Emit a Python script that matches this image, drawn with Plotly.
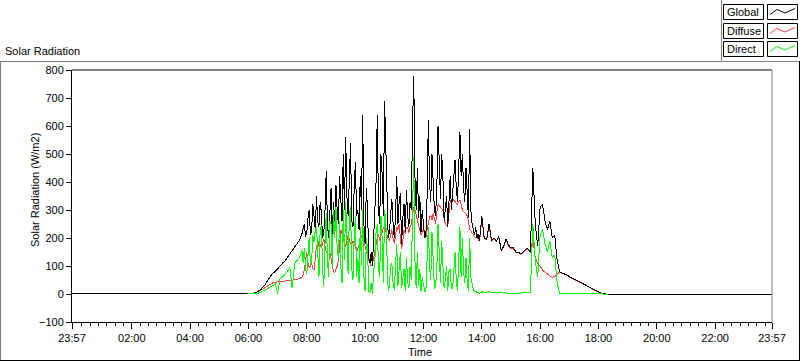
import plotly.graph_objects as go

# ---------------- data ----------------
# sample times (minutes after midnight): 5-min early, 2.5-min during the cloudy midday, 5-min late
times_early = list(range(360, 470, 5))                 # 06:00 .. 07:45
times_mid = [470 + 2.5 * i for i in range(148)]        # 07:50 .. 13:57.5
times_late = list(range(840, 1105, 5))                 # 14:00 .. 18:20
times = times_early + times_mid + times_late

global_rad = [
    # 06:00 - 07:45
    0, 0, 2, 5, 10, 15, 25, 35, 50, 62, 75, 80, 92, 100, 110, 118, 130, 145, 155, 168, 180, 192,
    # 07:50 - 13:57.5
    215, 230, 250, 205,
    220, 270, 300, 210, 230, 320, 270, 230, 350, 260, 240, 330, 290, 200, 220, 300, 440, 250, 200, 320, 380, 210, 330, 260,
    390, 300, 250, 420, 330, 260, 500, 300, 560, 350, 280, 450, 540, 260, 240, 380, 470, 280, 300, 230, 420, 300, 640, 250,
    180, 380, 300, 130, 110, 150, 100, 200, 280, 400, 640, 300, 250, 500, 430, 280, 690, 500, 350, 200, 220, 300, 340, 250,
    200, 280, 420, 250, 330, 360, 180, 270, 320, 220, 370, 280, 240, 330, 300, 600, 780, 420, 300, 450, 270, 350, 220, 300,
    260, 200, 210, 350, 620, 400, 330, 500, 400, 300, 280, 380, 600, 450, 340, 500, 420, 260, 300, 350, 240, 330, 420, 300,
    350, 420, 480, 380, 330, 450, 580, 420, 500, 380, 330, 450, 320, 270, 590, 300, 250, 230, 210, 240, 200, 215, 190, 230,
    # 14:00 - 18:20
    280, 200, 195, 250, 190, 200, 190, 205, 155, 170, 196, 175,
    165, 165, 150, 150, 143, 150, 160, 162, 150, 450, 250, 170,
    310, 320, 260, 230, 260, 200, 210, 120, 80, 75, 72, 68,
    62, 58, 52, 48, 44, 40, 35, 30, 26, 22, 17, 12,
    8, 4, 1, 0, 0,
]
diffuse_rad = [
    0, 0, 1, 4, 8, 12, 18, 24, 30, 36, 40, 42, 43, 44, 44, 45, 46, 47, 48, 50, 52, 55,
    60, 70, 85, 120,
    150, 110, 95, 100, 110, 90, 85, 130, 175, 160, 190, 175, 165, 180, 195, 170, 150, 145, 140, 150, 130, 100, 80, 75,
    85, 100, 120, 180, 230, 215, 200, 185, 170, 190, 210, 195, 180, 175, 190, 180, 170, 150, 160, 170, 185, 210, 200, 185,
    170, 150, 140, 120, 110, 100, 105, 130, 160, 185, 200, 215, 190, 205, 220, 235, 240, 225, 210, 195, 190, 210, 230, 200,
    180, 210, 240, 230, 250, 200, 160, 190, 230, 215, 240, 235, 220, 240, 250, 280, 310, 300, 280, 260, 240, 225, 210, 220,
    230, 215, 200, 230, 260, 275, 280, 265, 290, 270, 250, 290, 320, 315, 310, 305, 300, 270, 250, 245, 240, 290, 330, 335,
    340, 335, 330, 325, 320, 330, 335, 320, 300, 295, 290, 285, 280, 260, 230, 225, 220, 212, 205, 203, 200, 195, 188, 220,
    275, 198, 193, 245, 188, 198, 188, 202, 153, 168, 192, 172,
    162, 163, 148, 148, 141, 148, 157, 160, 148, 200, 130, 110,
    100, 85, 78, 70, 65, 60, 62, 70, 78, 74, 71, 67,
    61, 57, 51, 47, 43, 39, 34, 29, 25, 21, 16, 11,
    7, 3, 1, 0, 0,
]
direct_rad = [
    0, 0, 0, 1, 3, 6, 10, 14, 20, 25, 30, 35, 2, 55, 60, 70, 80, 95, 20, 110, 120, 130,
    155, 110, 165, 90,
    70, 150, 205, 100, 120, 210, 185, 230, 240, 150, 60, 230, 245, 90, 30, 180, 290, 120, 60, 260, 250, 100, 300, 200,
    310, 160, 130, 260, 100, 40, 300, 120, 330, 200, 70, 280, 310, 90, 50, 200, 280, 60, 130, 40, 240, 100, 300, 60,
    10, 200, 160, 10, 5, 40, 0, 80, 120, 220, 250, 90, 60, 280, 200, 40, 300, 260, 140, 10, 30, 100, 110, 40,
    15, 90, 180, 30, 80, 150, 20, 60, 90, 10, 130, 40, 20, 100, 50, 290, 490, 120, 20, 150, 30, 90, 10, 60,
    30, 10, 10, 120, 240, 100, 50, 220, 110, 20, 30, 90, 250, 130, 40, 190, 120, 20, 50, 100, 10, 80, 90, 20,
    20, 90, 150, 50, 10, 120, 240, 60, 200, 80, 40, 130, 40, 10, 200, 60, 30, 15, 10, 8, 5, 4, 3, 5,
    8, 5, 6, 10, 4, 5, 3, 5, 4, 3, 4, 3,
    3, 4, 3, 3, 4, 5, 6, 5, 4, 250, 120, 60,
    210, 230, 180, 150, 190, 130, 140, 40, 3, 2, 2, 2,
    2, 2, 2, 3, 2, 2, 2, 1, 1, 1, 1, 1,
    1, 1, 0, 0, 0,
]
assert len(times) == len(global_rad) == len(diffuse_rad) == len(direct_rad)

day_start, day_end = -3, 1437          # 23:57 .. 23:57
x_tick_vals = [-3, 120, 240, 360, 480, 600, 720, 840, 960, 1080, 1200, 1320, 1437]
x_tick_text = ["23:57", "02:00", "04:00", "06:00", "08:00", "10:00", "12:00",
               "14:00", "16:00", "18:00", "20:00", "22:00", "23:57"]
y_tick_vals = [-100, 0, 100, 200, 300, 400, 500, 600, 700, 800]
series_names = ["Global", "Diffuse", "Direct"]
series_colors = ["#000000", "#FF4040", "#00FF00"]

# ---------------- figure ----------------
W, H = 800, 361
L, R, T, B = 72, 772, 70, 322
PW, PH = R - L, B - T


def px(x):
    return (x - L) / PW


def py(y):
    return (B - y) / PH


FONT = "Liberation Sans, Arial, sans-serif"

fig = go.Figure()
fig.add_trace(go.Scatter(x=times, y=diffuse_rad, mode="lines",
                         line=dict(color=series_colors[1], width=1),
                         name=series_names[1], hoverinfo="skip"))
fig.add_trace(go.Scatter(x=[day_start] + times + [day_end], y=[0] + global_rad + [0],
                         mode="lines", line=dict(color=series_colors[0], width=1),
                         name=series_names[0], hoverinfo="skip"))
fig.add_trace(go.Scatter(x=times, y=direct_rad, mode="lines",
                         line=dict(color=series_colors[2], width=1),
                         name=series_names[2], hoverinfo="skip"))

minor_vals = []
k = -7
while True:
    v = 120 + k * 120 / 7
    if v > day_end:
        break
    if v >= day_start and k % 7 != 0:
        minor_vals.append(v)
    k += 1

shapes = []
gray = "#808080"


def line(x0, y0, x1, y1, color, w=1):
    shapes.append(dict(type="line", xref="paper", yref="paper",
                       x0=px(x0), y0=py(y0), x1=px(x1), y1=py(y1),
                       line=dict(color=color, width=w), layer="above"))


# outer frame
line(0, 61.5, 800, 61.5, gray)
line(0.5, 61, 0.5, 361, gray)
line(0, 360.5, 800, 360.5, "#000000")
line(799.5, 61, 799.5, 361, "#000000")
# legend panel edge
line(721.5, 0, 721.5, 61, gray)
# plot top and right borders
shapes.append(dict(type="line", xref="paper", yref="paper", x0=0, x1=1, y0=1, y1=1,
                   line=dict(color="#000000", width=1), layer="above"))
shapes.append(dict(type="line", xref="paper", yref="paper", x0=1, x1=1, y0=0, y1=1,
                   line=dict(color=gray, width=1), layer="above"))

annotations = []
row_tops = [4.5, 23.5, 41.5]
for name, color, top in zip(series_names, series_colors, row_tops):
    bot = top + 15
    shapes.append(dict(type="rect", xref="paper", yref="paper",
                       x0=px(723.5), x1=px(763.5), y0=py(top), y1=py(bot),
                       line=dict(color="#000000", width=1), fillcolor="white"))
    shapes.append(dict(type="rect", xref="paper", yref="paper",
                       x0=px(767.5), x1=px(797.5), y0=py(top), y1=py(bot),
                       line=dict(color="#000000", width=1), fillcolor="white"))
    pts = [(770, top + 10), (777, top + 5), (785, top + 8.5), (795, top + 4)]
    path = "M " + " L ".join(f"{px(a):.5f},{py(b):.5f}" for a, b in pts)
    shapes.append(dict(type="path", xref="paper", yref="paper", path=path,
                       line=dict(color=color, width=1)))
    annotations.append(dict(text=name, xref="paper", yref="paper", x=px(725), y=py(top + 7.5),
                            xanchor="left", yanchor="middle", showarrow=False,
                            font=dict(family=FONT, size=11, color="#000000")))

annotations.append(dict(text="Solar Radiation", xref="paper", yref="paper",
                        x=px(3), y=py(51), xanchor="left", yanchor="middle", showarrow=False,
                        font=dict(family=FONT, size=11, color="#000000")))
annotations.append(dict(text="Time", xref="paper", yref="paper",
                        x=px(420), y=py(352), xanchor="center", yanchor="middle", showarrow=False,
                        font=dict(family=FONT, size=11, color="#000000")))
annotations.append(dict(text="Solar Radiation (W/m2)", xref="paper", yref="paper",
                        x=px(35), y=py(190), xanchor="center", yanchor="middle", showarrow=False,
                        textangle=-90, font=dict(family=FONT, size=11, color="#000000")))

fig.update_layout(
    width=W, height=H,
    margin=dict(l=L, r=W - R, t=T, b=H - B, pad=0),
    paper_bgcolor="white", plot_bgcolor="white",
    showlegend=False,
    font=dict(family=FONT, size=11, color="#000000"),
    shapes=shapes, annotations=annotations,
    xaxis=dict(range=[day_start, day_end], tickmode="array", tickvals=x_tick_vals,
               ticktext=x_tick_text, ticks="outside", ticklen=6, tickwidth=1,
               tickcolor="#000000", showline=True, linecolor="#000000", linewidth=1,
               showgrid=False, zeroline=False,
               minor=dict(tickmode="array", tickvals=minor_vals, ticks="outside",
                          ticklen=3, tickcolor="#000000", tickwidth=1, showgrid=False),
               tickfont=dict(family=FONT, size=11, color="#000000")),
    yaxis=dict(range=[-100, 800], tickmode="array", tickvals=y_tick_vals,
               ticks="outside", ticklen=5, tickwidth=1, tickcolor="#000000",
               showline=True, linecolor="#000000", linewidth=1,
               showgrid=False, zeroline=False,
               tickfont=dict(family=FONT, size=11, color="#000000")),
)

post = ("document.body.style.margin='0';document.body.style.overflow='hidden';"
        "document.querySelectorAll('.js-line').forEach(function(e){e.style.shapeRendering='crispEdges';});")
fig.write_html("out.html", config={"displayModeBar": False}, post_script=post)
